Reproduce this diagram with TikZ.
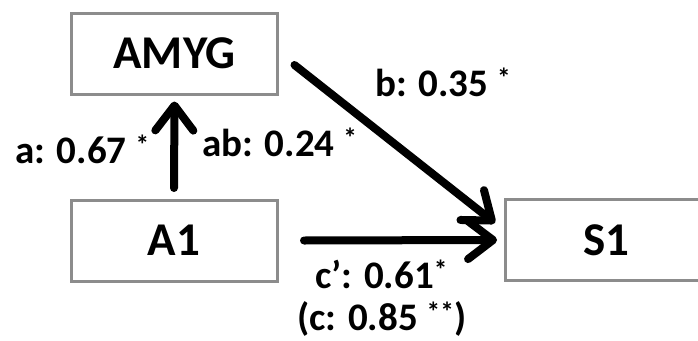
\documentclass[tikz,border=0pt]{standalone}
\usepackage{fontspec}
\setmainfont{Carlito}
\usetikzlibrary{arrows.meta,calc}
\definecolor{boxgray}{RGB}{140,140,140}
\begin{document}
\begin{tikzpicture}[x=1pt,y=-1pt,
  box/.style={draw=boxgray,line width=3pt,fill=white,minimum width=206pt,minimum height=81pt,inner sep=0pt,font=\fontsize{47}{50}\selectfont\bfseries},
  lbl/.style={inner sep=0pt,anchor=base west,font=\fontsize{39}{42}\selectfont\bfseries},
  arr/.style={line width=8pt,line cap=round,-{Straight Barb[length=25pt,width=38pt,line cap=round,line join=round]}}]
\useasboundingbox (0,0) rectangle (698,340);
\node[box] (AMYG) at (174.5,53.5) {AMYG};
\node[box] (A1) at (174,240.5) {A1};
\node[box,minimum width=203pt] (S1) at (606.5,240) {S1};
\draw[arr] ($(A1.north)+(0,-10.5)$) -- ($(AMYG.south)+(0,6)$);
\draw[arr] ($(A1.east)+(25.5,0)$) -- ($(S1.west)+(-6.5,0)$);
\draw[arr] ($(AMYG.east)+(15.5,11.5)$) -- ($(S1.west)+(-8.5,-17)$);
\node[lbl] (la) at (15,163.3) {a: 0.67 \textsuperscript{*}};
\node[lbl] (lab) at (202,156.7) {ab: 0.24 \textsuperscript{*}};
\node[lbl] (lb) at (375,96.7) {b: 0.35 \textsuperscript{*}};
\node[lbl] (lc1) at (315,288.3) {c’: 0.61\textsuperscript{*}};
\node[lbl] (lc) at (297,330.5) {(c: 0.85 \textsuperscript{**})};
\end{tikzpicture}
\end{document}
